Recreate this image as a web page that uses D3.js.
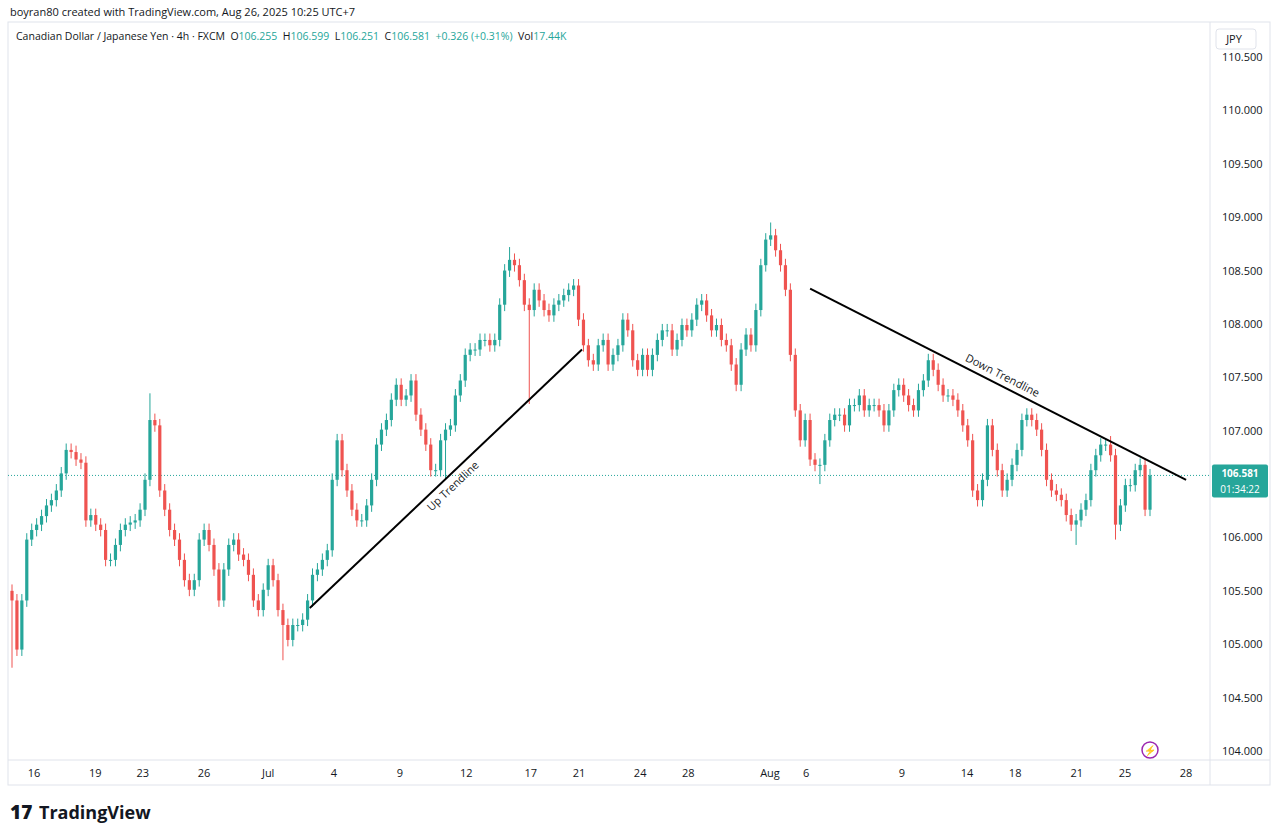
<!DOCTYPE html>
<html><head><meta charset="utf-8">
<script src="https://cdn.jsdelivr.net/npm/d3@7"></script>
<style>body{margin:0;background:#fff;font-family:"Open Sans",Roboto,sans-serif}</style>
</head><body><svg id="c" width="1280" height="838"></svg>
<script>
const firstOpen = 105.50;
const closes = [105.41,104.95,105.41,105.98,106.07,106.12,106.20,106.30,106.35,106.44,106.60,106.82,106.80,106.73,106.70,106.16,106.21,106.12,106.07,105.79,105.79,105.93,106.07,106.12,106.14,106.16,106.26,106.54,107.10,107.05,106.44,106.26,106.07,105.98,105.79,105.60,105.51,105.60,105.98,106.07,105.93,105.70,105.41,105.70,105.93,105.98,105.84,105.79,105.65,105.41,105.32,105.51,105.74,105.60,105.32,105.18,105.04,105.18,105.18,105.23,105.41,105.65,105.70,105.79,105.88,106.54,106.91,106.63,106.44,106.26,106.16,106.16,106.30,106.54,106.87,107.01,107.10,107.29,107.43,107.29,107.33,107.47,107.15,107.01,106.87,106.63,106.63,106.91,107.01,107.05,107.33,107.47,107.71,107.76,107.76,107.85,107.85,107.80,107.85,108.18,108.50,108.60,108.55,108.41,108.18,108.13,108.32,108.22,108.13,108.08,108.18,108.22,108.27,108.32,108.36,108.04,107.80,107.66,107.62,107.80,107.85,107.62,107.71,107.80,108.04,107.94,107.66,107.57,107.71,107.57,107.71,107.85,107.94,107.94,107.76,107.85,107.99,107.94,108.04,108.18,108.22,108.08,107.94,107.99,107.85,107.80,107.62,107.43,107.76,107.90,107.80,108.13,108.55,108.79,108.83,108.69,108.55,108.32,107.71,107.19,106.91,107.10,106.73,106.68,106.68,106.91,107.10,107.15,107.15,107.05,107.24,107.24,107.33,107.19,107.24,107.24,107.19,107.05,107.19,107.38,107.43,107.33,107.24,107.19,107.38,107.47,107.66,107.57,107.43,107.33,107.33,107.29,107.19,107.05,106.91,106.44,106.35,106.54,107.05,106.82,106.63,106.44,106.54,106.68,106.82,107.10,107.15,107.10,107.01,106.82,106.54,106.44,106.40,106.35,106.21,106.12,106.16,106.26,106.35,106.63,106.77,106.87,106.87,106.77,106.12,106.30,106.49,106.49,106.63,106.68,106.26,106.581];
// positions below are on a 0..227 time scale spanning first..last candle
const spikes = [[0.4,null,104.78],[27.5,107.35,null],[54.5,null,104.85],[99,108.72,null],[102.7,null,107.25],[151.2,108.95,null],[86.8,null,106.55],[161,null,106.50],[212.4,null,105.93],[220.6,null,105.98],[219.5,106.95,null]];
const wickSize = 0.06;
const dateLabels = ["16","19","23","26","Jul","4","9","12","17","21","24","28","Aug","6","9","14","18","21","25","28"];
const dateIdx = [4.4,16.6,26.1,38.3,51.1,64.2,77.4,90.6,103.5,113.1,125.3,134.9,151.2,158.4,177.5,190.5,200.1,212.4,222.0,234.2];
const priceTicks = [104,104.5,105,105.5,106,106.5,107,107.5,108,108.5,109,109.5,110,110.5];
const upTrend = [[59.4,105.34],[113.7,107.76]];
const downTrend = [[159.2,108.33],[234.2,106.54]];
const lastPrice = 106.581;

const G="#26a69a", R="#ef5350";
const svg=d3.select("#c");
const n=closes.length;
const x=d3.scaleLinear().domain([0,n-1]).range([12,1150]);
const t=d3.scaleLinear().domain([0,227]).range([12,1150]);
const y=d3.scaleLinear().domain([104,110.5]).range([751,57]);
const candles=closes.map((c,i)=>{const o=i?closes[i-1]:firstOpen;let h=Math.max(o,c)+wickSize,l=Math.min(o,c)-wickSize;
  spikes.forEach(s=>{if(Math.round(x.invert(t(s[0])))===i){if(s[1]!=null)h=Math.max(h,s[1]);if(s[2]!=null)l=Math.min(l,s[2]);}});return {i,o,c,h,l};});

svg.append("text").attr("x",10).attr("y",16).attr("font-size",11).attr("fill","#131722").text("boyran80 created with TradingView.com, Aug 26, 2025 10:25 UTC+7");
svg.append("rect").attr("x",8).attr("y",22).attr("width",1262).attr("height",763).attr("fill","none").attr("stroke","#e0e3eb");
svg.append("line").attr("x1",1210).attr("x2",1210).attr("y1",22).attr("y2",785).attr("stroke","#e0e3eb");
svg.append("line").attr("x1",8).attr("x2",1270).attr("y1",760).attr("y2",760).attr("stroke","#e0e3eb");
const hdr=svg.append("text").attr("x",16).attr("y",40).attr("font-size",10.5).attr("fill","#131722");
[["Canadian Dollar / Japanese Yen · 4h · FXCM  O","#131722"],["106.255","#26a69a"],["  H","#131722"],["106.599","#26a69a"],["  L","#131722"],["106.251","#26a69a"],["  C","#131722"],["106.581","#26a69a"],["  +0.326 (+0.31%)","#26a69a"],["  Vol","#131722"],["17.44K","#26a69a"]].forEach(s=>hdr.append("tspan").attr("fill",s[1]).attr("xml:space","preserve").text(s[0]));
svg.append("rect").attr("x",1216).attr("y",29).attr("width",40).attr("height",20).attr("rx",3).attr("fill","#fff").attr("stroke","#e0e3eb");
svg.append("text").attr("x",1234).attr("y",43).attr("text-anchor","middle").attr("font-size",11).attr("fill","#131722").text("JPY");

svg.selectAll(".pt").data(priceTicks.filter(d=>Math.abs(y(d)-y(lastPrice))>22)).join("text").attr("x",1222).attr("y",d=>y(d)+4).attr("font-size",11).attr("fill","#131722").text(d=>d.toFixed(3));
svg.selectAll(".dt").data(dateLabels).join("text").attr("x",(d,i)=>t(dateIdx[i])).attr("y",777).attr("text-anchor","middle").attr("font-size",11).attr("fill","#131722").text(d=>d);

svg.append("line").attr("x1",8).attr("x2",1210).attr("y1",y(lastPrice)).attr("y2",y(lastPrice)).attr("stroke",G).attr("stroke-dasharray","1,2");
const cg=svg.append("g");
cg.selectAll("line").data(candles).join("line").attr("x1",d=>x(d.i)).attr("x2",d=>x(d.i)).attr("y1",d=>y(d.h)).attr("y2",d=>y(d.l)).attr("stroke",d=>d.c>=d.o?G:R).attr("stroke-width",1);
cg.selectAll("rect").data(candles).join("rect").attr("x",d=>x(d.i)-1.6).attr("width",3.2).attr("y",d=>y(Math.max(d.o,d.c))).attr("height",d=>Math.max(1,Math.abs(y(d.o)-y(d.c)))).attr("fill",d=>d.c>=d.o?G:R);

function tl(p,label,dy){svg.append("line").attr("x1",t(p[0][0])).attr("y1",y(p[0][1])).attr("x2",t(p[1][0])).attr("y2",y(p[1][1])).attr("stroke","#000").attr("stroke-width",2);
  const mx=(t(p[0][0])+t(p[1][0]))/2,my=(y(p[0][1])+y(p[1][1]))/2;
  const ang=Math.atan2(y(p[1][1])-y(p[0][1]),t(p[1][0])-t(p[0][0]))*180/Math.PI;
  svg.append("text").attr("transform",`translate(${mx},${my}) rotate(${ang}) translate(0,${dy})`).attr("text-anchor","middle").attr("font-size",11).attr("fill","#131722").text(label);}
tl(upTrend,"Up Trendline",14);
tl(downTrend,"Down Trendline",-6);

svg.append("rect").attr("x",1212).attr("y",y(lastPrice)-11).attr("width",56).attr("height",33).attr("rx",2).attr("fill",G);
svg.append("text").attr("x",1240).attr("y",y(lastPrice)+2).attr("text-anchor","middle").attr("font-size",10).attr("font-weight","bold").attr("fill","#fff").text("106.581");
svg.append("text").attr("x",1240).attr("y",y(lastPrice)+18).attr("text-anchor","middle").attr("font-size",10).attr("fill","#fff").text("01:34:22");
svg.append("circle").attr("cx",1150).attr("cy",750).attr("r",8).attr("fill","none").attr("stroke","#9c27b0").attr("stroke-width",1.5);
svg.append("text").attr("x",1150).attr("y",754).attr("text-anchor","middle").attr("font-size",10).attr("fill","#e91e63").text("⚡");
svg.append("text").attr("x",10).attr("y",819).attr("font-size",19).attr("font-weight","900").attr("fill","#131722").text("17");
svg.append("text").attr("x",39).attr("y",819).attr("font-size",18).attr("font-weight","bold").attr("fill","#131722").text("TradingView");
</script></body></html>
